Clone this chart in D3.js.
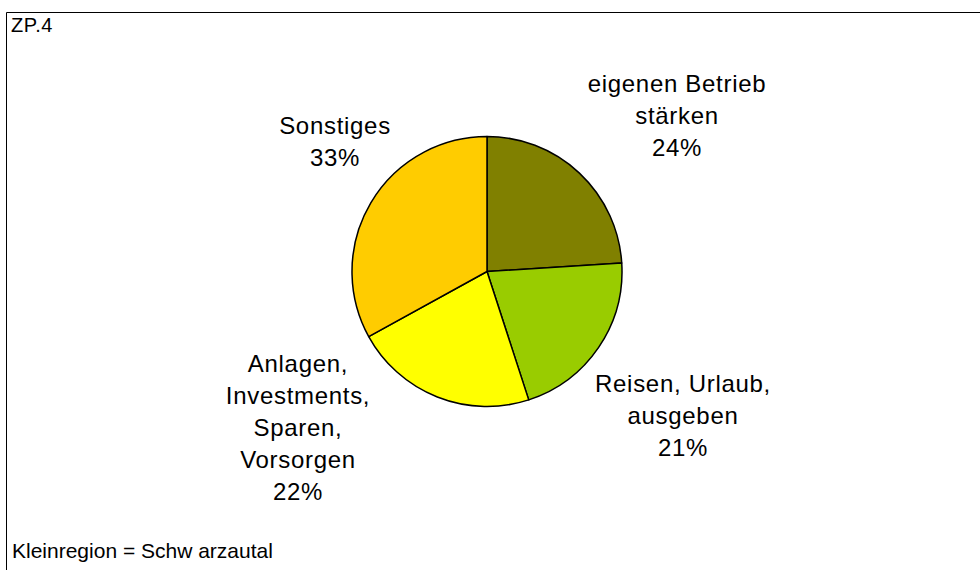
<!DOCTYPE html>
<html>
<head>
<meta charset="utf-8">
<script src="https://cdn.jsdelivr.net/npm/d3@7"></script>
<style>
  html, body { margin: 0; padding: 0; background: #fff; }
  svg { display: block; }
  text { font-family: "Liberation Sans", Arial, sans-serif; fill: #000; }
</style>
</head>
<body>
<svg id="chart" width="980" height="570"></svg>
<script>
// Slices, clockwise from twelve o'clock
const categories = [
  ["eigenen Betrieb", "stärken"],
  ["Reisen, Urlaub,", "ausgeben"],
  ["Anlagen,", "Investments,", "Sparen,", "Vorsorgen"],
  ["Sonstiges"]
];
const shares = [24, 21, 22, 33];
const sliceColors = ["#808000", "#99CC00", "#FFFF00", "#FFCC00"];
const chartCode = "ZP.4";
const footnote = "Kleinregion = Schw arzautal";

const W = 980, H = 570;
const svg = d3.select("#chart");

// Frame (only top and left edges fall inside the canvas)
svg.append("path")
  .attr("d", `M6.5,${H} V12.5 H${W}`)
  .attr("fill", "none")
  .attr("stroke", "#000")
  .attr("stroke-width", 1);

svg.append("text")
  .attr("x", 11)
  .attr("y", 32)
  .attr("font-size", 20)
  .attr("letter-spacing", 0.6)
  .text(chartCode);

svg.append("text")
  .attr("x", 12)
  .attr("y", 558)
  .attr("font-size", 21)
  .text(footnote);

// Pie
const cx = 487, cy = 271.5, radius = 135;
const pie = d3.pie().sort(null).value(d => d)
  .startAngle(0).endAngle(2 * Math.PI);
const arc = d3.arc().innerRadius(0).outerRadius(radius);
const arcs = pie(shares);

const g = svg.append("g").attr("transform", `translate(${cx},${cy})`);
g.selectAll("path.slice")
  .data(arcs)
  .join("path")
  .attr("class", "slice")
  .attr("d", arc)
  .attr("fill", (d, i) => sliceColors[i])
  .attr("stroke", "#000")
  .attr("stroke-width", 1.5)
  .attr("stroke-linejoin", "round");

// Label blocks: horizontal centre and first baseline relative to the pie centre
const labelPlacement = [
  { dx: 190, dy: -180 },
  { dx: 196, dy: 120 },
  { dx: -189, dy: 100 },
  { dx: -152, dy: -138 }
];
const lineStep = 32.2;

const labels = g.selectAll("text.lbl")
  .data(arcs)
  .join("text")
  .attr("class", "lbl")
  .attr("font-size", 24)
  .attr("letter-spacing", 0.7)
  .attr("text-anchor", "middle");

labels.each(function(d, i) {
  const lines = categories[i].concat([`${shares[i]}%`]);
  const p = labelPlacement[i];
  d3.select(this).selectAll("tspan")
    .data(lines)
    .join("tspan")
    .attr("x", p.dx)
    .attr("y", (t, k) => p.dy + k * lineStep)
    .text(t => t);
});
</script>
</body>
</html>
